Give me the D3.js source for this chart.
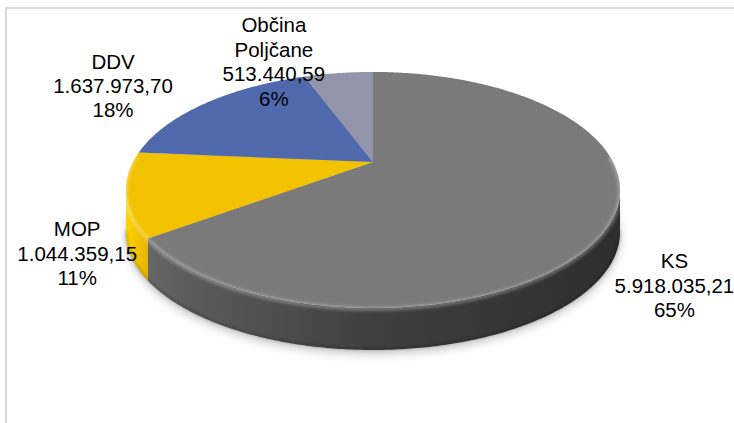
<!DOCTYPE html>
<html>
  <head>
    <meta charset="utf-8">
    <title>Viri financiranja</title>
    <script src="https://d3js.org/d3.v7.min.js"></script>
    <style>
      body { margin: 0; background: #ffffff; }
      svg { display: block; }
      .lbl { font-family: "Liberation Sans", Arial, sans-serif; font-size: 20.5px; fill: #000000; }
    </style>
  </head>
  <body>
    <svg width="734" height="423"></svg>
    <script>
      // data
      var categories = ["KS", "MOP", "DDV", "Občina Poljčane"];
      var values = [5918035.21, 1044359.15, 1637973.70, 513440.59];
      var topColors = ["#7a7a7a", "#f2c100", "#5069ad", "#9294a9"];
      // label nudges relative to the computed outside anchor
      var labelNudge = [[1, 53], [10, 52], [-62, -6], [-59, 4]];

      var svg = d3.select("svg");
      var cx = 373, cy = 162, A = 240, B = 111.4, k = 0.237, depth = 42;

      // simple perspective: circle on a tilted plane
      function proj(a, r, dy) {
        var X = r * Math.sin(a), Z = -r * Math.cos(a);
        var w = 1 - k * Z;
        return [cx + A * X / w, cy + B * Z / w + dy];
      }
      function arcPts(a0, a1, dy) {
        var pts = d3.range(a0, a1, 0.01).map(function(a) { return proj(a, 1, dy); });
        pts.push(proj(a1, 1, dy));
        return pts;
      }
      var line = d3.line();

      var pie = d3.pie().sort(null).startAngle(0).endAngle(2 * Math.PI);
      var arcs = pie(values);
      var total = d3.sum(values);

      var locale = d3.formatLocale({ decimal: ",", thousands: ".", grouping: [3], currency: ["", " €"] });
      var fmtVal = locale.format(",.2f");
      var fmtPct = d3.format(".0%");

      var defs = svg.append("defs");
      defs.append("filter").attr("id", "blur8").attr("x", "-20%").attr("y", "-20%").attr("width", "140%").attr("height", "140%")
        .append("feGaussianBlur").attr("stdDeviation", 5);
      defs.append("filter").attr("id", "blur2")
        .append("feGaussianBlur").attr("stdDeviation", 1.6);

      function grad(id, stops) {
        var g = defs.append("linearGradient").attr("id", id)
          .attr("gradientUnits", "userSpaceOnUse")
          .attr("x1", 126).attr("y1", 0).attr("x2", 620).attr("y2", 0);
        stops.forEach(function(s) { g.append("stop").attr("offset", s[0]).attr("stop-color", s[1]); });
      }
      grad("side0", [[0, "#6e6e6e"], [0.12, "#5c5c5c"], [0.5, "#3f3f3f"], [1, "#2e2e2e"]]);
      grad("side1", [[0, "#ffd400"], [0.04, "#e8b700"], [0.07, "#d6a800"], [1, "#c49a00"]]);
      grad("side2", [[0, "#3e5a9c"], [1, "#2f4a86"]]);
      grad("side3", [[0, "#7a7c92"], [1, "#6a6c82"]]);

      // chart area frame
      svg.append("path")
        .attr("d", line([[6, 423], [6, 8], [734, 8]]))
        .attr("fill", "none").attr("stroke", "#d9d9d9").attr("stroke-width", 2);

      // soft shadow under the pie
      var vA = Math.acos(-k), vB = 2 * Math.PI - Math.acos(-k);
      svg.append("path")
        .attr("d", line(arcPts(0, 2 * Math.PI, depth + 4)) + "Z")
        .attr("fill", "#000").attr("opacity", 0.22).attr("filter", "url(#blur8)");

      // sides (front half only)
      arcs.forEach(function(d, i) {
        var a0 = Math.max(d.startAngle, vA), a1 = Math.min(d.endAngle, vB);
        if (a1 <= a0) return;
        var pts = arcPts(a0, a1, 0).concat(arcPts(a0, a1, depth).reverse());
        svg.append("path").attr("d", line(pts) + "Z").attr("fill", "url(#side" + i + ")");
      });

      // top faces
      arcs.forEach(function(d, i) {
        var pts = [[cx, cy]].concat(arcPts(d.startAngle, d.endAngle, 0));
        svg.append("path").attr("d", line(pts) + "Z").attr("fill", topColors[i]);
      });

      // bevel highlight along the front rim
      svg.append("path")
        .attr("d", line(arcPts(vA - 0.3, vB + 0.3, 1)))
        .attr("fill", "none").attr("stroke", "#ffffff").attr("stroke-opacity", 0.28)
        .attr("stroke-width", 4).attr("filter", "url(#blur2)");
      svg.append("path")
        .attr("d", line(arcPts(vA, vB, depth - 1)))
        .attr("fill", "none").attr("stroke", "#000").attr("stroke-opacity", 0.25)
        .attr("stroke-width", 2).attr("filter", "url(#blur2)");

      // labels
      arcs.forEach(function(d, i) {
        var mid = (d.startAngle + d.endAngle) / 2;
        var p = proj(mid, 1.22, 0);
        var x = p[0] + labelNudge[i][0], y = p[1] + labelNudge[i][1];
        var lines = categories[i].split(" ").concat([fmtVal(values[i]), fmtPct(values[i] / total)]);
        var b0 = y + 7.15 - 12.2 * (lines.length - 1);
        var t = svg.append("text").attr("class", "lbl").attr("text-anchor", "middle");
        lines.forEach(function(s, j) {
          t.append("tspan").attr("x", x).attr("y", b0 + 24.4 * j).text(s);
        });
      });
    </script>
  </body>
</html>
